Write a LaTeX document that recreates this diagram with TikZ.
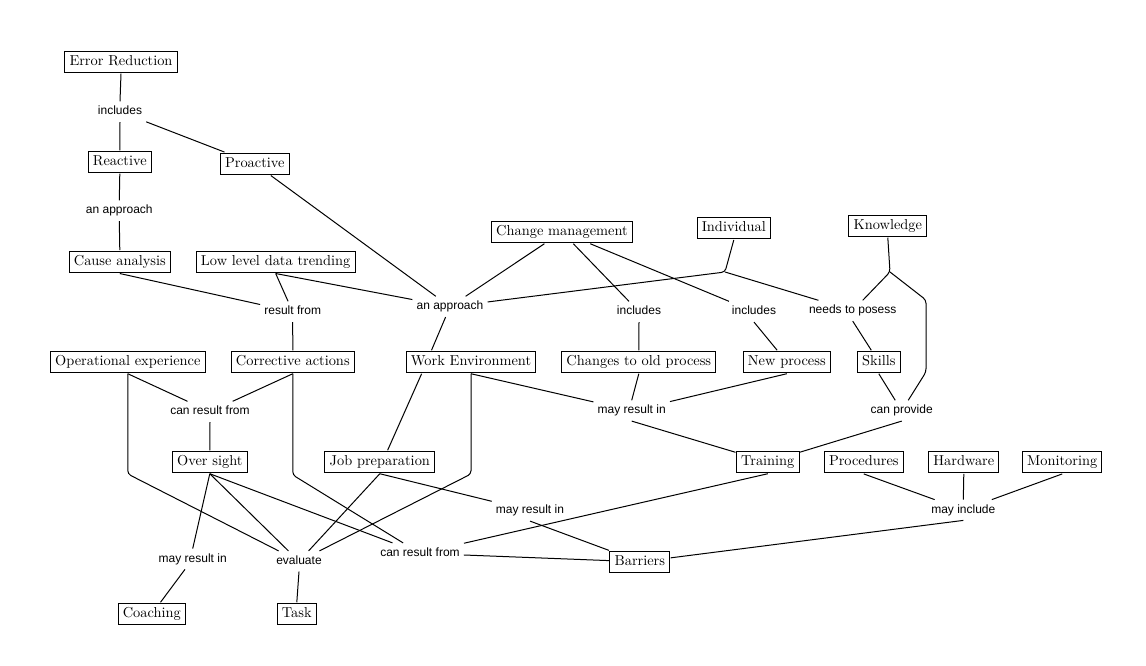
\documentclass[tikz,border=0pt]{standalone}
\usepackage{fontspec}
\newfontfamily\linkfont{Liberation Sans}
\usetikzlibrary{calc}
\begin{document}
\begin{tikzpicture}[x=0.75pt,y=-0.75pt,
  concept/.style={draw, line width=0.75pt, font=\fontsize{10.8}{12}\selectfont, inner xsep=3.5pt, inner ysep=3.2pt, text height=7.5pt, text depth=2.2pt, outer sep=0.75pt},
  linkph/.style={font=\linkfont\fontsize{9}{10}\selectfont, inner xsep=3pt, inner ysep=3.4pt, text height=6.5pt, text depth=1.9pt},
  conn/.style={line width=0.75pt, rounded corners=2.5pt}]
\useasboundingbox (0,0) rectangle (1146,666);
% concepts
\node[concept] (er) at (121,61.8) {Error Reduction};
\node[concept] (reac) at (119.8,162) {Reactive};
\node[concept] (proa) at (254.8,163.8) {Proactive};
\node[concept] (cause) at (119.8,261.8) {Cause analysis};
\node[concept] (lldt) at (275.7,261.8) {Low level data trending};
\node[concept] (cm) at (562,232) {Change management};
\node[concept] (ind) at (733.8,228.2) {Individual};
\node[concept] (know) at (887.8,225.8) {Knowledge};
\node[concept] (oe) at (127.8,362) {Operational experience};
\node[concept] (ca) at (292.8,362) {Corrective actions};
\node[concept] (we) at (471,362) {Work Environment};
\node[concept] (chg) at (638.8,362) {Changes to old process};
\node[concept] (np) at (786.8,362) {New process};
\node[concept] (sk) at (878.8,362) {Skills};
\node[concept] (os) at (209.8,462) {Over sight};
\node[concept] (jp) at (379.8,462) {Job preparation};
\node[concept] (tr) at (767.8,462) {Training};
\node[concept] (proc) at (863.8,462.2) {Procedures};
\node[concept] (hw) at (963.8,462.2) {Hardware};
\node[concept] (mon) at (1062.2,462.2) {Monitoring};
\node[concept] (bar) at (639.8,561.8) {Barriers};
\node[concept] (coach) at (151.8,614) {Coaching};
\node[concept] (task) at (296.8,614) {Task};
% linking phrases
\node[linkph] (l1) at (120,111.7) {includes};
\node[linkph] (l2) at (119.3,210.7) {an approach};
\node[linkph] (l3) at (292.7,311.7) {result from};
\node[linkph] (l4) at (450,306.7) {an approach};
\node[linkph] (l5) at (639,311.7) {includes};
\node[linkph] (l6) at (754,311.7) {includes};
\node[linkph] (l7) at (852.7,310.7) {needs to posess};
\node[linkph] (l8) at (210,411.7) {can result from};
\node[linkph] (l9) at (631.7,410.7) {may result in};
\node[linkph] (l10) at (901.7,410.7) {can provide};
\node[linkph] (l11) at (530,510.7) {may result in};
\node[linkph] (l12) at (963.3,510) {may include};
\node[linkph] (l13) at (192.7,559) {may result in};
\node[linkph] (l14) at (299,561.3) {evaluate};
\node[linkph] (l15) at (420,553.3) {can result from};
% bend points
\coordinate (indj) at (725,272);
\coordinate (knj) at (890,272);
\coordinate (knr1) at (926,300);
\coordinate (knr2) at (926,372);
\coordinate (wev) at (471,474);
\coordinate (oev) at (127.8,474);
\coordinate (cav) at (292.8,475);
% connectors
\draw[conn] (er.south) -- (l1.north);
\draw[conn] (l1.south) -- (reac.north);
\draw[conn] (l1) -- (proa);
\draw[conn] (reac.south) -- (l2.north);
\draw[conn] (l2.south) -- (cause.north);
\draw[conn] (cause.south) -- (l3);
\draw[conn] (lldt.south) -- (l3);
\draw[conn] (lldt.south) -- (l4);
\draw[conn] (l3.south) -- (ca.north);
\draw[conn] (proa) -- (l4);
\draw[conn] (cm) -- (l4);
\draw[conn] (ind.south) -- (indj) -- (l4);
\draw[conn] (indj) -- (l7);
\draw[conn] (l4) -- ($(we.north west)!0.2!(we.north east)$);
\draw[conn] (cm) -- (l5);
\draw[conn] (cm) -- (l6);
\draw[conn] (l5.south) -- (chg.north);
\draw[conn] (l6.south) -- (np);
\draw[conn] (know.south) -- (knj) -- (l7);
\draw[conn] (knj) -- (knr1) -- (knr2) -- (l10);
\draw[conn] (l7.south) -- (sk);
\draw[conn] (sk.south) -- (l10);
\draw[conn] (l10.south) -- (tr);
\draw[conn] (chg.south) -- (l9.north);
\draw[conn] (np.south) -- (l9);
\draw[conn] (we.south) -- (l9);
\draw[conn] (l9.south) -- (tr);
\draw[conn] ($(we.south west)!0.125!(we.south east)$) -- ($(jp.north west)!0.57!(jp.north east)$);
\draw[conn] (we.south) -- (wev) -- (l14);
\draw[conn] (oe.south) -- (oev) -- (l14);
\draw[conn] (oe.south) -- (l8);
\draw[conn] (ca.south) -- (l8);
\draw[conn] (l8.south) -- (os.north);
\draw[conn] (ca.south) -- (cav) -- (l15);
\draw[conn] (os.south) -- (l13.north);
\draw[conn] (os.south) -- (l14);
\draw[conn] (os.south) -- (l15);
\draw[conn] (jp.south) -- (l14);
\draw[conn] (jp.south) -- (l11);
\draw[conn] (l11.south) -- (bar);
\draw[conn] (tr.south) -- (l15);
\draw[conn] (l15) -- (bar);
\draw[conn] (proc.south) -- (l12);
\draw[conn] (hw.south) -- (l12.north);
\draw[conn] (mon.south) -- (l12);
\draw[conn] (l12.south) -- (bar);
\draw[conn] (l13) -- (coach);
\draw[conn] (l14.south) -- (task.north);
\end{tikzpicture}
\end{document}
